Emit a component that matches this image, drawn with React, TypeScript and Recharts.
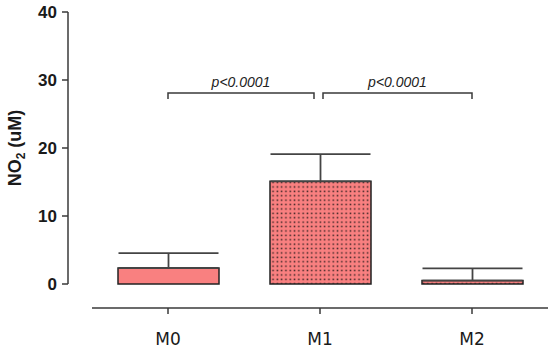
import { BarChart, Bar, Cell, XAxis, YAxis, ErrorBar, ReferenceLine } from 'recharts';

const groups = ['M0', 'M1', 'M2'];
const means = [2.35, 15.1, 0.5];
const upperErr = [2.2, 4.0, 1.8];
const patterned = [false, true, true];
const yTicks = [0, 10, 20, 30, 40];
const brackets = [
  { from: 'M0', to: 'M1', y: 28.1, label: 'p<0.0001', insetL: 0, insetR: 6 },
  { from: 'M1', to: 'M2', y: 28.1, label: 'p<0.0001', insetL: 3, insetR: 0 },
];

const data = groups.map((name, i) => ({ name, value: means[i], err: [0, upperErr[i]] }));

const CORAL = '#F98080';
const AXIS = '#3a3a3a';

const Bracket = (props: any) => {
  const { x1, y1, x2, insetL, insetR, text } = props;
  const a = x1 + insetL;
  const b = x2 - insetR;
  return (
    <g>
      <path d={`M${a},${y1 + 6}V${y1}H${b}V${y1 + 6}`} fill="none" stroke={AXIS} strokeWidth={1.5} />
      <text
        x={(a + b) / 2}
        y={y1 - 6}
        textAnchor="middle"
        fontFamily="Liberation Sans, Arial, sans-serif"
        fontStyle="italic"
        fontSize={14}
        fill="#222"
      >
        {text}
      </text>
    </g>
  );
};

const YLabel = (props: any) => {
  const vb = props.viewBox || { x: 0, y: 0, height: 0 };
  const cx = vb.x + 21;
  const cy = vb.y + vb.height / 2;
  return (
    <text
      x={cx}
      y={cy}
      transform={`rotate(-90, ${cx}, ${cy})`}
      textAnchor="middle"
      fontFamily="Liberation Sans, Arial, sans-serif"
      fontWeight="bold"
      fontSize={18}
      fill="#1a1a1a"
    >
      NO
      <tspan fontSize={12} dy={4}>2</tspan>
      <tspan dy={-4}> (uM)</tspan>
    </text>
  );
};

export default function App() {
  return (
    <div style={{ position: 'absolute', left: 0, top: 0 }}>
      <BarChart
        width={550}
        height={354}
        data={data}
        margin={{ top: 12, right: 2, bottom: 0, left: 0 }}
        barSize={101}
      >
        <defs>
          <pattern id="dots" width="4.3" height="4.4" patternUnits="userSpaceOnUse">
            <rect width="4.3" height="4.4" fill={CORAL} />
            <rect x="1.4" y="1.4" width="1.5" height="1.5" fill="#3a2424" />
          </pattern>
        </defs>
        {/* spacer axes (id 0) sit next to the plot and push the drawn axes outward */}
        <XAxis dataKey="name" height={24} tick={false} axisLine={false} tickLine={false} />
        <YAxis width={24} tick={false} axisLine={false} tickLine={false} />
        <XAxis
          xAxisId="main"
          dataKey="name"
          height={46}
          axisLine={{ stroke: AXIS, strokeWidth: 1.5 }}
          tickLine={{ stroke: AXIS, strokeWidth: 1.5 }}
          tickSize={6}
          tickMargin={19}
          tick={{ fontFamily: 'DejaVu Sans, Verdana, sans-serif', fontSize: 17, fill: '#1a1a1a' }}
        />
        <YAxis
          yAxisId="main"
          width={68}
          domain={[0, 40]}
          ticks={yTicks}
          interval={0}
          axisLine={{ stroke: AXIS, strokeWidth: 1.5 }}
          tickLine={{ stroke: AXIS, strokeWidth: 1.5 }}
          tickSize={6}
          tickMargin={5}
          tick={{ fontFamily: 'Liberation Sans, Arial, sans-serif', fontWeight: 'bold', fontSize: 17, fill: '#1a1a1a' }}
          label={(p: any) => <YLabel {...p} />}
        />
        <Bar dataKey="value" xAxisId="main" yAxisId="main" stroke="#222" strokeWidth={1.5} isAnimationActive={false}>
          {data.map((d, i) => (
            <Cell key={d.name} fill={patterned[i] ? 'url(#dots)' : CORAL} />
          ))}
          <ErrorBar dataKey="err" direction="y" width={50} stroke="#444" strokeWidth={1.8} />
        </Bar>
        {brackets.map((b, i) => (
          <ReferenceLine
            key={i}
            xAxisId="main"
            yAxisId="main"
            segment={[{ x: b.from, y: b.y }, { x: b.to, y: b.y }]}
            shape={(p: any) => <Bracket {...p} insetL={b.insetL} insetR={b.insetR} text={b.label} />}
          />
        ))}
      </BarChart>
    </div>
  );
}
